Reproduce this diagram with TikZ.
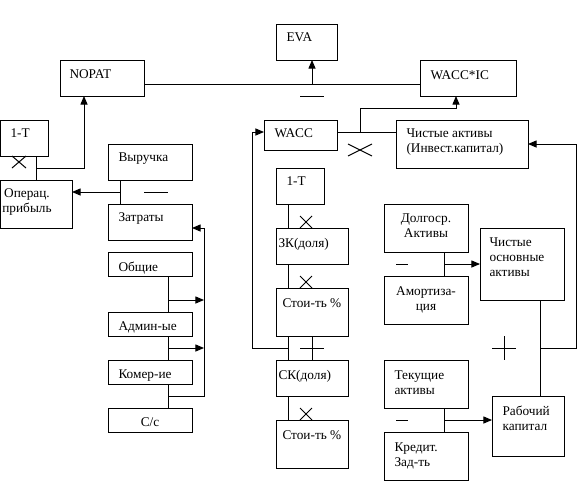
\documentclass[tikz,border=0pt]{standalone}
\usepackage{fontspec}
\setmainfont{Liberation Serif}
\usetikzlibrary{arrows}
\tikzset{
	blk/.style={draw,inner sep=0pt,outer sep=0pt,anchor=north west},
	txt/.style={inner sep=0pt,anchor=north west,align=left},
	ctxt/.style={inner sep=0pt,anchor=north,align=center},
}
\begin{document}
\begin{tikzpicture}[line cap=butt,line join=miter,>=triangle 45,x=1pt,y=-1pt,line width=1pt,font=\fontsize{13.3}{15}\selectfont]
	\useasboundingbox (0,0) rectangle (578,490);
	\node[blk,minimum width=61pt,minimum height=36pt] (eva) at (276,24) {};
	\node[blk,minimum width=84pt,minimum height=36pt] (nopat) at (60,60) {};
	\node[blk,minimum width=96pt,minimum height=36pt] (waccic) at (420,60) {};
	\node[blk,minimum width=48pt,minimum height=36pt] (onetl) at (0.5,120) {};
	\node[blk,minimum width=71.5pt,minimum height=48pt] (oper) at (0.5,180) {};
	\node[blk,minimum width=84pt,minimum height=36pt] (rev) at (108,144) {};
	\node[blk,minimum width=84pt,minimum height=36pt] (cost) at (108,204) {};
	\node[blk,minimum width=84pt,minimum height=24pt] (gen) at (108,252) {};
	\node[blk,minimum width=84pt,minimum height=24pt] (adm) at (108,312) {};
	\node[blk,minimum width=84pt,minimum height=24pt] (com) at (108,360) {};
	\node[blk,minimum width=84pt,minimum height=24pt] (cs) at (108,408) {};
	\node[blk,minimum width=73pt,minimum height=30pt] (wacc) at (264,120) {};
	\node[blk,minimum width=132pt,minimum height=48pt] (netas) at (396,120) {};
	\node[blk,minimum width=48pt,minimum height=36pt] (onetm) at (276,168) {};
	\node[blk,minimum width=72pt,minimum height=36pt] (debt) at (276,228) {};
	\node[blk,minimum width=72pt,minimum height=48pt] (kdcost) at (276,288) {};
	\node[blk,minimum width=72pt,minimum height=36pt] (eq) at (276,360) {};
	\node[blk,minimum width=72pt,minimum height=48pt] (kecost) at (276,420) {};
	\node[blk,minimum width=84pt,minimum height=48pt] (lta) at (384,204) {};
	\node[blk,minimum width=84pt,minimum height=48pt] (amort) at (384,276) {};
	\node[blk,minimum width=84pt,minimum height=72pt] (nfa) at (480,228) {};
	\node[blk,minimum width=84pt,minimum height=48pt] (ca) at (384,360) {};
	\node[blk,minimum width=84pt,minimum height=48pt] (cl) at (384,432) {};
	\node[blk,minimum width=72pt,minimum height=60pt] (wc) at (492,396) {};
		\node[txt] (eva-t) at (286,32) {EVA};
		\node[txt] (nopat-t) at (69,69) {NOPAT};
		\node[txt] (waccic-t) at (430,70) {WACC*IC};
		\node[txt] (onetl-t) at (10,128) {1-T};
		\node[ctxt] (oper-t) at (27,188) {Операц.\\прибыль};
		\node[txt] (rev-t) at (118,152) {Выручка};
		\node[txt] (cost-t) at (118,212) {Затраты};
		\node[txt] (gen-t) at (118,261) {Общие};
		\node[txt] (adm-t) at (118,321) {Админ-ые};
		\node[txt] (com-t) at (118,369) {Комер-ие};
		\node[ctxt] (cs-t) at (150,417) {С/с};
		\node[txt] (wacc-t) at (274,128) {WACC};
		\node[txt] (netas-t) at (406,128) {Чистые активы\\(Инвест.капитал)};
		\node[txt] (onetm-t) at (286,176) {1-T};
		\node[txt] (debt-t) at (278,238) {ЗК(доля)};
		\node[txt] (kdcost-t) at (282,298) {Стои-ть \%};
		\node[txt] (eq-t) at (278,370) {СК(доля)};
		\node[txt] (kecost-t) at (282,430) {Стои-ть \%};
		\node[ctxt] (lta-t) at (426,213) {Долгоср.\\Активы};
		\node[ctxt] (amort-t) at (426,286) {Амортиза-\\ция};
		\node[txt] (nfa-t) at (489,237) {Чистые\\основные\\активы};
		\node[txt] (ca-t) at (394,370) {Текущие\\активы};
		\node[txt] (cl-t) at (394,442) {Кредит.\\Зад-ть};
		\node[txt] (wc-t) at (502,405) {Рабочий\\капитал};
	\coordinate (evaj) at (312,84);
	\coordinate (nopj) at (36,168);
	\coordinate (nopin) at (84,168);
	\coordinate (revj) at (120,192);
	\coordinate (genj) at (168,300);
	\coordinate (admj) at (168,348);
	\coordinate (comj) at (168,396);
	\coordinate (costr) at (204,228);
	\coordinate (waccj) at (360,132);
	\coordinate (wicin) at (456,108);
	\coordinate (kdj) at (288,348);
	\coordinate (wleft) at (252,132);
	\coordinate (ltaj) at (444,264);
	\coordinate (caj) at (444,420);
	\coordinate (nfaj) at (540,348);
	\coordinate (nright) at (576,144);
	\draw (nopat.east |- evaj) -- (waccic.west |- evaj);
	\draw[->] (evaj) -- (evaj |- eva.south);
	\draw (nopj |- onetl.south) -- (nopj |- oper.north);
	\draw[->] (nopj) -- (nopin) -- (nopin |- nopat.south);
	\draw (revj |- rev.south) -- (revj |- cost.north);
	\draw[->] (revj) -- (revj -| oper.east);
	\draw (genj |- gen.south) -- (genj |- adm.north);
	\draw (admj |- adm.south) -- (admj |- com.north);
	\draw (comj |- com.south) -- (comj |- cs.north);
	\draw[->] (genj) -- (genj -| costr);
	\draw[->] (admj) -- (admj -| costr);
	\draw[->] (comj) -| (costr) -- (costr -| cost.east);
	\draw (wacc.east |- waccj) -- (netas.west |- waccj);
	\draw[->] (waccj) |- (wicin) -- (wicin |- waccic.south);
	\draw (kdj |- onetm.south) -- (kdj |- debt.north);
	\draw (kdj |- debt.south) -- (kdj |- kdcost.north);
	\draw (kdj |- kdcost.south) -- (kdj |- eq.north);
	\draw (kdj |- eq.south) -- (kdj |- kecost.north);
	\draw[->] (kdj) -| (wleft) -- (wleft -| wacc.west);
	\draw (ltaj |- lta.south) -- (ltaj |- amort.north);
	\draw[->] (ltaj) -- (ltaj -| nfa.west);
	\draw (caj |- ca.south) -- (caj |- cl.north);
	\draw[->] (caj) -- (caj -| wc.west);
	\draw (nfaj |- nfa.south) -- (nfaj |- wc.north);
	\draw[->] (nfaj) -| (nright) -- (nright -| netas.east);
	\draw (300,96) -- (324,96);
	\draw (12,156) -- (26,168);
	\draw (12,168) -- (26,156);
	\draw (144,192) -- (168,192);
	\draw (348,144) -- (372,156);
	\draw (348,156) -- (372,144);
	\draw (300,216) -- (312,228);
	\draw (300,228) -- (312,216);
	\draw (300,276) -- (312,288);
	\draw (300,288) -- (312,276);
	\draw (300,348) -- (324,348);
	\draw (312,336) -- (312,360);
	\draw (300,408) -- (312,420);
	\draw (300,420) -- (312,408);
	\draw (396,264) -- (408,264);
	\draw (396,420) -- (408,420);
	\draw (492,348) -- (516,348);
	\draw (504,336) -- (504,360);
\end{tikzpicture}
\end{document}
